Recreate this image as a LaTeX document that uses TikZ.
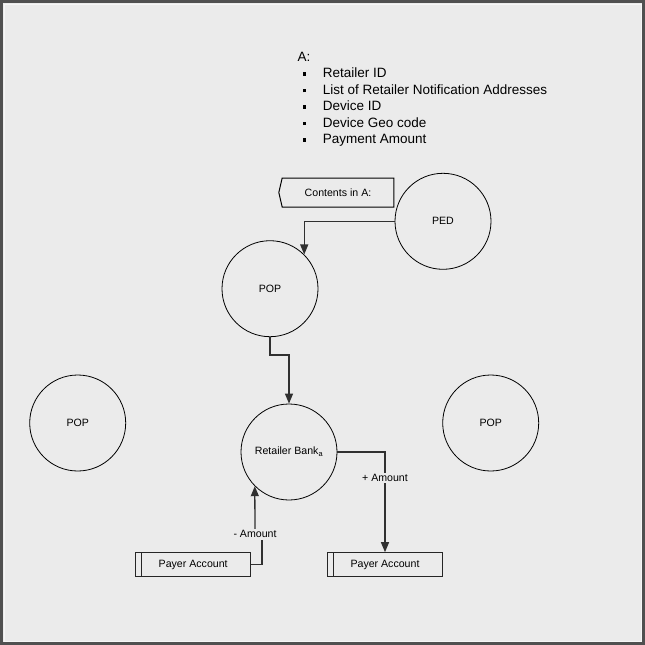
\documentclass[tikz,border=0pt]{standalone}
\usepackage{fontspec}
\setmainfont{Liberation Sans}
\usepackage{tikz}
\usepackage{xcolor}
\usetikzlibrary{positioning, arrows.meta, shapes.symbols}

\definecolor{paper}{HTML}{EBEBEB}
\definecolor{frame}{HTML}{505050}
\definecolor{wire}{HTML}{303030}

\tikzset{
  listfont/.style={font=\fontsize{13.5}{16}\selectfont},
  smallfont/.style={font=\fontsize{10.6}{13}\selectfont},
  proc/.style={circle, draw=black, line width=0.8pt, minimum size=96pt, inner sep=0pt, smallfont},
  store/.style={draw=black!85, line width=1pt, minimum width=115pt, minimum height=24pt, inner sep=0pt, smallfont,
    path picture={\draw[black!85, line width=1pt] ([xshift=6pt]path picture bounding box.north west) -- ([xshift=6pt]path picture bounding box.south west);}},
  flow/.style={draw=wire, line width=1.3pt, -{Triangle[length=10pt, width=8pt]}},
  amount/.style={fill=paper, inner sep=1.5pt, smallfont}
}

\begin{document}
\begin{tikzpicture}[x=1pt, y=-1pt]
        \fill[paper] (0,0) rectangle (645,645);
        \draw[frame, line width=2.8pt] (1.4,1.4) rectangle (643.6,643.6);
        \draw[white!55!paper, line width=0.8pt] (4,4) rectangle (641,641);
        \useasboundingbox (0,0) rectangle (645,645);

        \node[anchor=base west, inner sep=0pt, listfont] (head) at (297.5,61.4) {A:};
        \foreach \entry [count=\i] in {Retailer ID, List of Retailer Notification Addresses, Device ID, Device Geo code, Payment Amount}
            \node[anchor=base west, inner sep=0pt, listfont] (item\i) at (302.3,61.4+16.4*\i) {\makebox[20.4pt][l]{\rule[1.9pt]{3.6pt}{3.6pt}}\entry};

        \node[signal, signal to=west, signal pointer angle=154, draw=black, line width=1pt, minimum width=115pt, minimum height=29pt, inner sep=0pt, smallfont] (contents) at (338,192.5) {Contents in A:};

        \node[proc] (ped) at (443,221.3) {PED};
        \node[proc] (pop) at (270,288.7) {POP};
        \node[proc] (popL) at (77.7,423) {POP};
        \node[proc] (popR) at (490.7,423) {POP};
        \node[proc] (bank) at (289,452) {Retailer Bank\textsubscript{a}};

        \node[store] (payerL) at (193.2,564.7) {Payer Account};
        \node[store] (payerR) at (385,564.7) {Payer Account};

        \node[amount] (minus) at (255,534.3) {- Amount};

        \draw[flow] (ped.west) -| (pop.45);
        \draw[flow] (pop.south) -- ++(0,18) -| (bank.north);
        \draw[flow] (bank.east) -| node[amount, pos=0.63] (plus) {+ Amount} (payerR.north);
        \draw[wire, line width=1.3pt] (payerL.east) -| ([xshift=7pt]minus.south);
        \draw[flow] (minus.north) -- (bank.225);
\end{tikzpicture}
\end{document}
